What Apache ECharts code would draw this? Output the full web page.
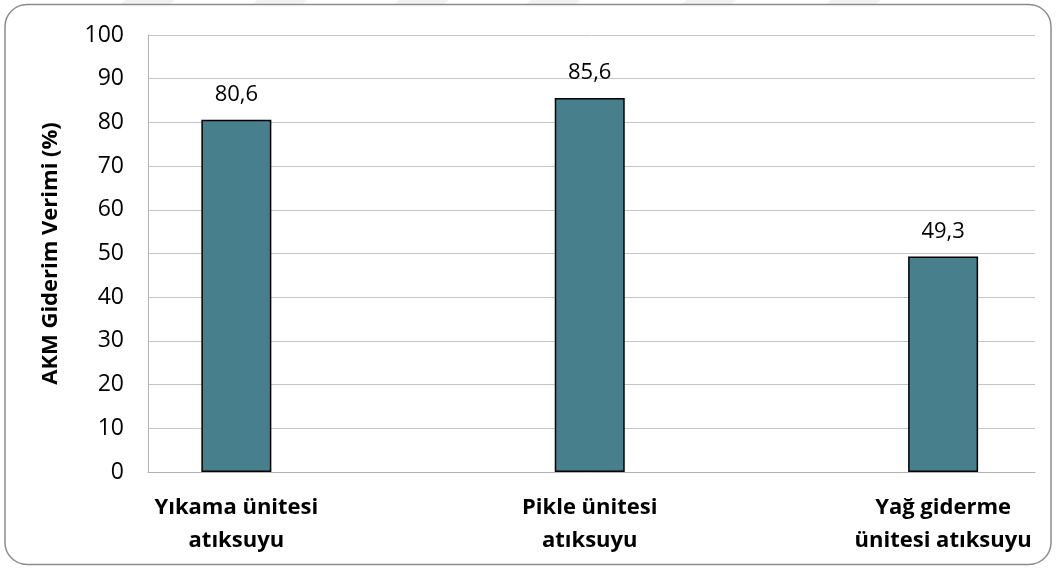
<!DOCTYPE html>
<html>
<head>
<meta charset="utf-8">
<script src="https://cdn.jsdelivr.net/npm/echarts@6/dist/echarts.min.js"></script>
<style>
  html, body { margin: 0; padding: 0; background: #fff; }
  #chart { width: 1057px; height: 570px; }
</style>
</head>
<body>
<div id="chart"></div>
<script>
// Units treated, and their suspended-solids removal efficiency (%)
const categories = ['Yıkama ünitesi\natıksuyu', 'Pikle ünitesi\natıksuyu', 'Yağ giderme\nünitesi atıksuyu'];
const efficiency = [80.6, 85.6, 49.3];
const yTicks = [0, 10, 20, 30, 40, 50, 60, 70, 80, 90, 100];

const FONT = '"Open Sans", "DejaVu Sans", sans-serif';

// faint slanted stripes along the top edge
const stripeStarts = [125, 257, 399, 530, 686, 831];
const stripes = stripeStarts.map(function (x0) {
  return {
    type: 'polygon',
    silent: true,
    shape: { points: [[x0, 0], [x0 + 50, 0], [x0 + 45, 5], [x0 - 5, 5]] },
    style: { fill: '#f2f2f2' },
    z: -1
  };
});

const chart = echarts.init(document.getElementById('chart'), null, { renderer: 'canvas' });

chart.setOption({
  animation: false,
  backgroundColor: '#ffffff',
  textStyle: { fontFamily: FONT },
  graphic: stripes.concat([
    {
      type: 'rect',
      silent: true,
      shape: { x: 5, y: 4.5, width: 1046, height: 560, r: 22 },
      style: { fill: 'none', stroke: '#8c8c8c', lineWidth: 1.5 },
      z: 0
    }
  ]),
  grid: { left: 148, right: 22, top: 35, bottom: 98, containLabel: false },
  xAxis: {
    type: 'value',
    min: -0.25,
    max: 2.26,
    splitLine: { show: false },
    axisTick: { show: false },
    axisLine: { show: true, onZero: false, lineStyle: { color: '#b3b3b3', width: 1 } },
    axisLabel: {
      customValues: [0, 1, 2],
      formatter: function (v) { return categories[Math.round(v)]; },
      fontFamily: FONT,
      fontSize: 22,
      fontWeight: 'bold',
      color: '#000',
      lineHeight: 33,
      margin: 19,
      align: 'center'
    }
  },
  yAxis: {
    type: 'value',
    min: yTicks[0],
    max: yTicks[yTicks.length - 1],
    interval: 10,
    name: 'AKM Giderim Verimi (%)',
    nameLocation: 'middle',
    nameRotate: 90,
    nameGap: 86,
    nameTextStyle: { fontFamily: FONT, fontSize: 22, fontWeight: 'bold', color: '#000' },
    axisLine: { show: true, onZero: false, lineStyle: { color: '#b3b3b3', width: 1 } },
    axisTick: { show: false },
    splitLine: { show: true, lineStyle: { color: '#c4c4c4', width: 1 } },
    axisLabel: { fontFamily: FONT, fontSize: 23, color: '#000', margin: 24 }
  },
  series: [
    {
      type: 'bar',
      data: efficiency.map(function (v, i) { return [i, v]; }),
      barWidth: 70,
      itemStyle: { color: '#477f8c', borderColor: '#000', borderWidth: 1.5 },
      label: {
        show: true,
        position: 'top',
        distance: 14,
        fontFamily: FONT,
        fontSize: 22,
        color: '#000',
        formatter: function (p) { return p.value[1].toFixed(1).replace('.', ','); }
      }
    }
  ]
});
</script>
</body>
</html>
